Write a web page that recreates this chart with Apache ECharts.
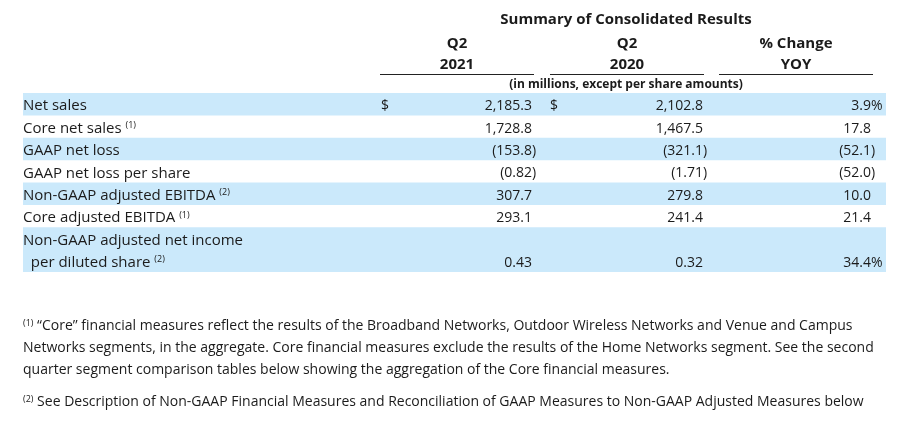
<!DOCTYPE html>
<html>
<head>
<meta charset="utf-8">
<script src="https://cdn.jsdelivr.net/npm/echarts@6/dist/echarts.min.js"></script>
<style>
  html, body { margin: 0; padding: 0; background: #fff; }
  #table { width: 900px; height: 434px; }
</style>
</head>
<body>
<div id="table"></div>
<script>
  // table content
  var rowLabels = ['Net sales', 'Core net sales', 'GAAP net loss', 'GAAP net loss per share',
      'Non-GAAP adjusted EBITDA', 'Core adjusted EBITDA', 'Non-GAAP adjusted net income\n  per diluted share'];
  var rowNotes = ['', '(1)', '', '', '(2)', '(1)', '(2)'];
  var rowSpan = [1, 1, 1, 1, 1, 1, 2];
  var rowDecimals = [1, 1, 1, 2, 1, 1, 2];
  var q2021 = [2185.3, 1728.8, -153.8, -0.82, 307.7, 293.1, 0.43];
  var q2020 = [2102.8, 1467.5, -321.1, -1.71, 279.8, 241.4, 0.32];
  var yoy = [3.9, 17.8, -52.1, -52.0, 10.0, 21.4, 34.4];
  var yoyPercent = [true, false, false, false, false, false, true];
  var dollarSign = [true, false, false, false, false, false, false];

  var titleText = 'Summary of Consolidated Results';
  var headTop = ['Q2', 'Q2', '% Change'];
  var headBottom = ['2021', '2020', 'YOY'];
  var unitsNote = '(in millions, except per share amounts)';

  var footnotes = [
      ['(1)', '\u201cCore\u201d financial measures reflect the results of the Broadband Networks, Outdoor Wireless Networks and Venue and Campus'],
      ['', 'Networks segments, in the aggregate. Core financial measures exclude the results of the Home Networks segment. See the second'],
      ['', 'quarter segment comparison tables below showing the aggregation of the Core financial measures.'],
      ['(2)', 'See Description of Non-GAAP Financial Measures and Reconciliation of GAAP Measures to Non-GAAP Adjusted Measures below']
  ];

  var FONT = '"Open Sans", "Noto Sans", sans-serif';
  var INK = '#1b1b1b';
  var BAND = '#cbe9fb';
  // column right edges / centers (x axis units = px)
  var colRight = [532, 703, 871];
  var colCenter = [457, 627, 796];
  var dollarX = [381, 550];

  function fmt(v, d) {
      var s = Math.abs(v).toFixed(d).replace(/\B(?=(\d{3})+(?!\d))/g, ',');
      return v < 0 ? '(' + s : s;
  }

  var rows = [];
  var start = 0;
  for (var i = 0; i < rowLabels.length; i++) {
      rows.push([start, rowSpan[i], i]);
      start += rowSpan[i];
  }

  var supStyle = { fontSize: 9, fontFamily: FONT, fill: INK, verticalAlign: 'top', padding: [0, 0, 6, 0] };

  function txt(x, y, text, align, extra) {
      var st = {
          x: x, y: y, text: text, fill: INK,
          font: '14px ' + FONT,
          align: align || 'left', verticalAlign: 'middle'
      };
      if (extra) Object.keys(extra).forEach(function (k) { st[k] = extra[k]; });
      return { type: 'text', style: st };
  }

  function renderRow(params, api) {
      var s = api.value(0), span = api.value(1), i = api.value(2);
      var p0 = api.coord([23, s]);
      var p1 = api.coord([886, s + span]);
      var kids = [];
      if (i % 2 === 0) {
          kids.push({ type: 'rect', shape: { x: p0[0], y: p0[1], width: p1[0] - p0[0], height: p1[1] - p0[1] },
              style: { fill: BAND } });
      }
      var lineH = api.size([0, 1])[1];
      var yFirst = p0[1] + lineH / 2 + 2;
      var yLast = p1[1] - lineH / 2 + 2;
      var note = rowNotes[i] ? ' {s|' + rowNotes[i] + '}' : '';
      var lines = rowLabels[i].split('\n');
      lines.forEach(function (ln, k) {
          var isLast = k === lines.length - 1;
          kids.push(txt(p0[0], yFirst + k * lineH, ln + (isLast ? note : ''), 'left', {
              font: '15px ' + FONT,
              rich: { s: supStyle }
          }));
      });
      if (dollarSign[i]) {
          kids.push(txt(dollarX[0], yLast, '$'));
          kids.push(txt(dollarX[1], yLast, '$'));
      }
      var vals = [[q2021[i], false], [q2020[i], false], [yoy[i], yoyPercent[i]]];
      vals.forEach(function (v, c) {
          var d = c === 2 ? 1 : rowDecimals[i];
          kids.push(txt(colRight[c], yLast, fmt(v[0], d), 'right'));
          var tail = (v[0] < 0 ? ')' : '') + (v[1] ? '%' : '');
          if (tail) kids.push(txt(colRight[c], yLast, tail, 'left'));
      });
      return { type: 'group', children: kids };
  }

  var graphics = [];
  graphics.push({ type: 'text', x: 626, y: 20,
      style: { text: titleText, font: 'bold 15px ' + FONT, fill: INK, align: 'center', verticalAlign: 'middle' } });
  for (var c = 0; c < 3; c++) {
      graphics.push({ type: 'text', x: colCenter[c], y: 44,
          style: { text: headTop[c], font: 'bold 15px ' + FONT, fill: INK, align: 'center', verticalAlign: 'middle' } });
      graphics.push({ type: 'text', x: colCenter[c], y: 65,
          style: { text: headBottom[c], font: 'bold 15px ' + FONT, fill: INK, align: 'center', verticalAlign: 'middle' } });
      graphics.push({ type: 'line', shape: { x1: colCenter[c] - 77, y1: 74.5, x2: colCenter[c] + 77, y2: 74.5 },
          style: { stroke: '#222', lineWidth: 1 } });
  }
  graphics.push({ type: 'text', x: 626, y: 85,
      style: { text: unitsNote, font: 'bold 12px ' + FONT, fill: INK, align: 'center', verticalAlign: 'middle' } });
  var footY = [326, 348, 370, 402];
  footnotes.forEach(function (f, k) {
      graphics.push({ type: 'text', x: 23, y: footY[k],
          style: {
              text: (f[0] ? '{s|' + f[0] + '} ' : '') + f[1],
              font: '14px ' + FONT, fill: INK, verticalAlign: 'middle',
              rich: { s: supStyle }
          } });
  });

  var chart = echarts.init(document.getElementById('table'));
  chart.setOption({
      animation: false,
      grid: { left: 0, right: 0, top: 93, height: 179 },
      xAxis: { type: 'value', min: 0, max: 900, show: false },
      yAxis: { type: 'value', min: 0, max: 8, inverse: true, show: false },
      graphic: graphics,
      series: [{
          type: 'custom',
          renderItem: renderRow,
          data: rows,
          clip: false
      }]
  });
</script>
</body>
</html>
